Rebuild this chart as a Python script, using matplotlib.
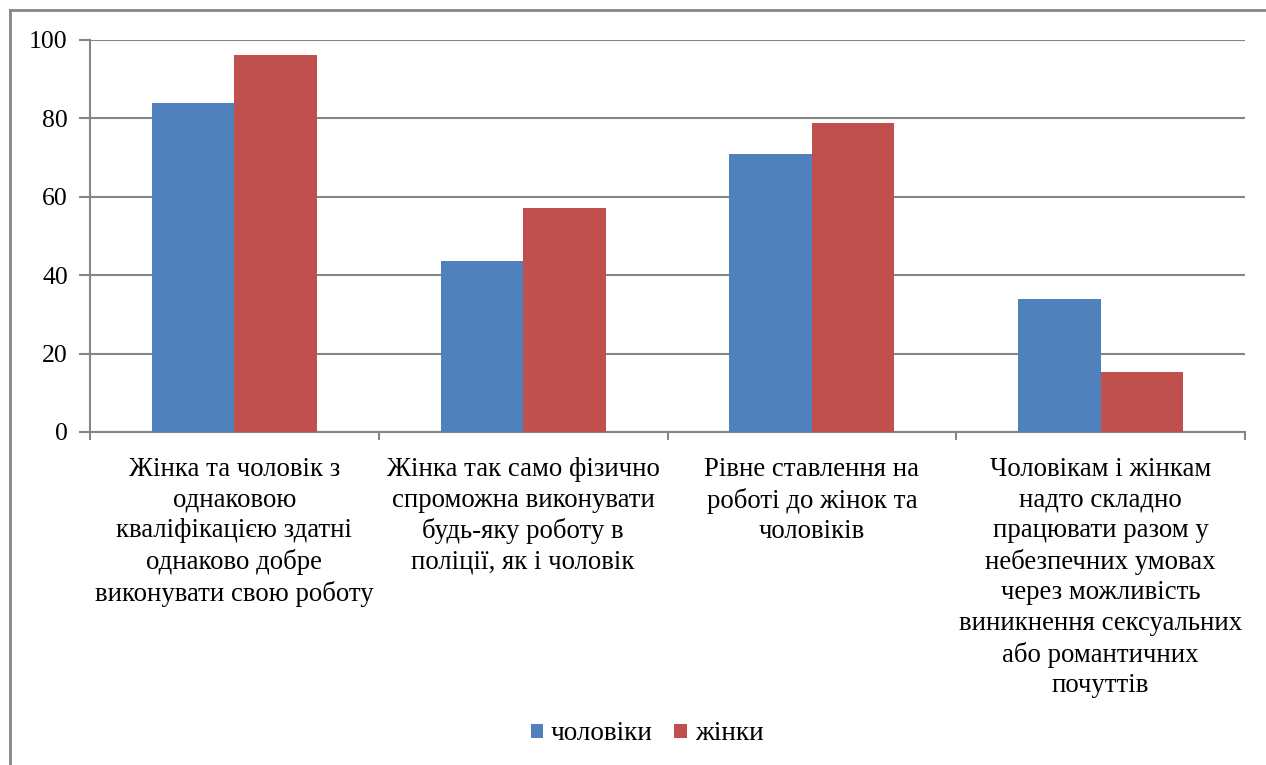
import matplotlib
import matplotlib.pyplot as plt
import matplotlib.ticker as ticker
from matplotlib.lines import Line2D
import numpy as np

matplotlib.use('Agg')

categories = [
    'Жінка та чоловік з\nоднаковою\nкваліфікацією здатні\nоднаково добре\nвиконувати свою роботу',
    'Жінка так само фізично\nспроможна виконувати\nбудь-яку роботу в\nполіції, як і чоловік',
    'Рівне ставлення на\nроботі до жінок та\nчоловіків',
    'Чоловікам і жінкам\nнадто складно\nпрацювати разом у\nнебезпечних умовах\nчерез можливість\nвиникнення сексуальних\nабо романтичних\nпочуттів',
]
men = [83.9, 43.5, 70.8, 33.9]
women = [96.2, 57.1, 78.7, 15.2]
yticks = [0, 20, 40, 60, 80, 100]

plt.rcParams['font.family'] = ['Liberation Serif', 'DejaVu Serif']

grey = '#868686'
blue = '#4f81bd'
red = '#c0504d'

fig = plt.figure(figsize=(12.66, 7.65), dpi=100)
ax = fig.add_axes([90 / 1266, 1 - 432 / 765, 1155 / 1266, 392 / 765])

x = np.arange(len(categories))
w = 1 / 3.5
ax.bar(x - w / 2, men, w, color=blue, label='чоловіки', zorder=3)
ax.bar(x + w / 2, women, w, color=red, label='жінки', zorder=3)

ax.set_xlim(-0.5, len(categories) - 0.5)
ax.set_ylim(0, 100)
ax.set_yticks(yticks)
ax.yaxis.grid(True, color=grey, linewidth=1.5, zorder=0)

ax.set_xticks(x)
ax.set_xticklabels(categories, fontsize=19.3, linespacing=1.29, va='top')
ax.tick_params(axis='x', which='major', length=0, pad=18)
ax.xaxis.set_minor_locator(ticker.FixedLocator(np.arange(-0.5, len(categories), 1)))
ax.tick_params(axis='x', which='minor', length=6, width=1.5, color=grey)
ax.tick_params(axis='y', length=8, width=1.5, color=grey, labelsize=18.5, pad=8)

for s in ['top', 'right']:
    ax.spines[s].set_visible(False)
for s in ['left', 'bottom']:
    ax.spines[s].set_color(grey)
    ax.spines[s].set_linewidth(1.5)

ax.legend(loc='center', bbox_to_anchor=(647 / 1266, 1 - 734 / 765),
          bbox_transform=fig.transFigure, ncol=2, frameon=False,
          fontsize=19.5, handlelength=0.45, handleheight=0.45,
          handletextpad=0.3, columnspacing=0.8)

# outer chart frame (only left and top edges are inside the picture)
fy = 1 - 10 / 765
fx = 10 / 1266
fig.add_artist(Line2D([fx, fx], [0, fy], transform=fig.transFigure, color=grey, linewidth=2))
fig.add_artist(Line2D([fx, 1], [fy, fy], transform=fig.transFigure, color=grey, linewidth=2))

fig.savefig('out.png', dpi=100)
